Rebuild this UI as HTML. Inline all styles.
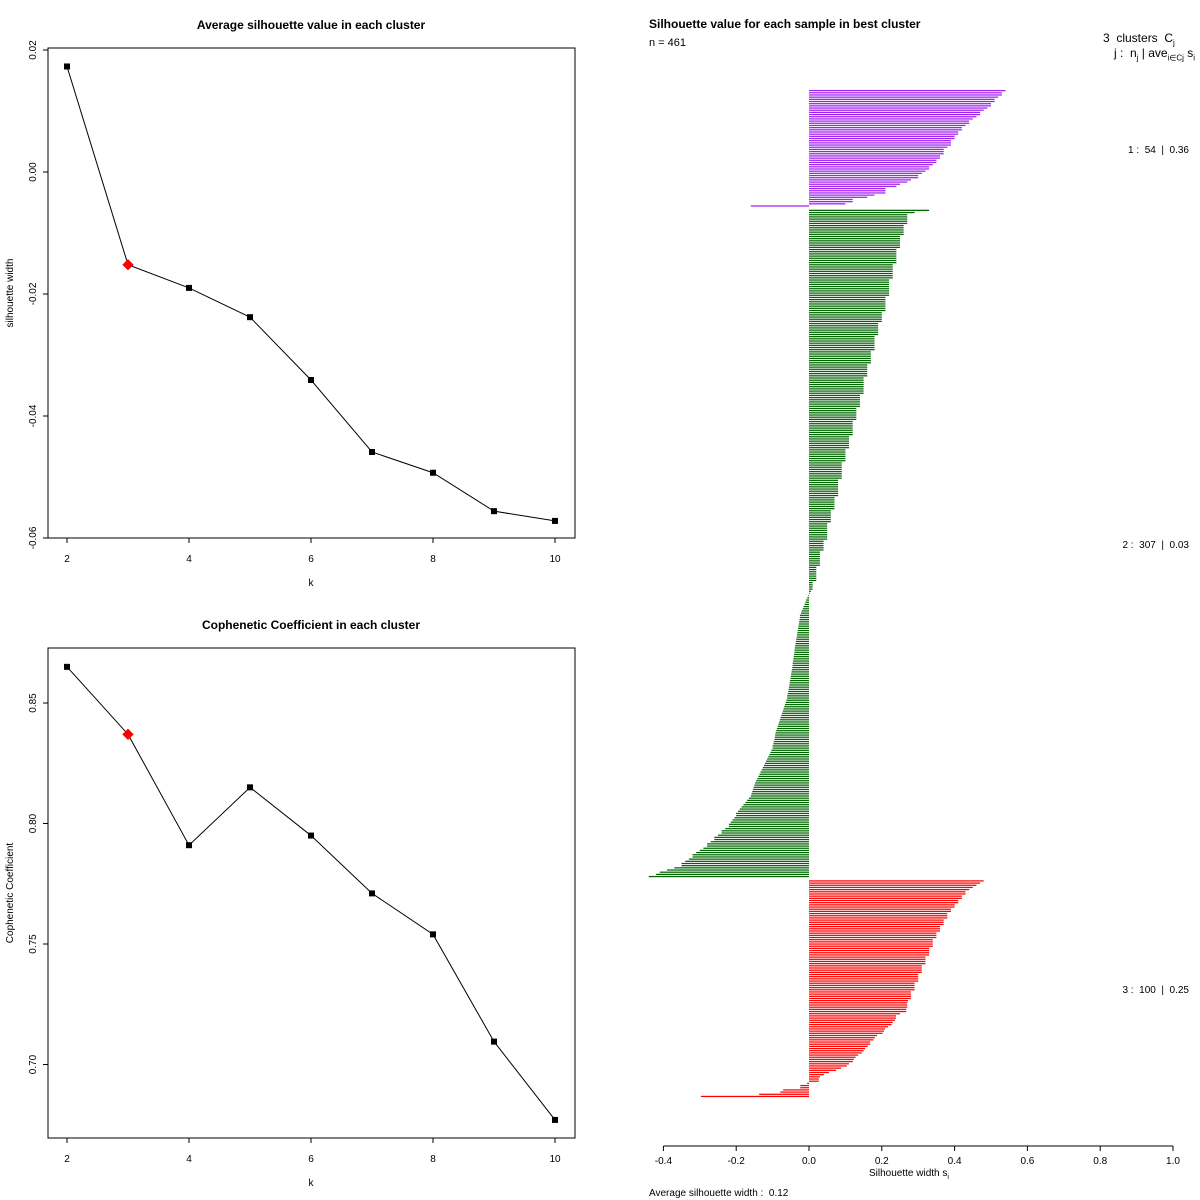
<!DOCTYPE html>
<html><head><meta charset="utf-8"><style>
body{margin:0;background:#fff}
svg{display:block;font-family:"Liberation Sans",Arial,sans-serif}
</style></head><body>
<svg id="s" width="1200" height="1200" viewBox="0 0 1200 1200">
<rect width="1200" height="1200" fill="#fff"/>
</svg>
<script>
const ks=[2,3,4,5,6,7,8,9,10];
const silAvg=[0.0173,-0.0152,-0.0190,-0.0238,-0.0341,-0.0459,-0.0493,-0.0556,-0.0572];
const coph=[0.865,0.837,0.791,0.815,0.795,0.771,0.754,0.7095,0.677];
const bestK=3;
const silTicks=[0.02,0,-0.02,-0.04,-0.06];
const silTickLabels=["0.02","0.00","-0.02","-0.04","-0.06"];
const cophTicks=[0.85,0.80,0.75,0.70];
const cophTickLabels=["0.85","0.80","0.75","0.70"];
const kTicks=[2,4,6,8,10];
const c1=[0.54,0.53,0.53,0.52,0.51,0.51,0.50,0.50,0.49,0.48,0.47,0.47,0.46,0.45,0.44,0.44,0.43,0.42,0.42,0.41,0.41,0.40,0.40,0.39,0.39,0.39,0.38,0.37,0.37,0.37,0.36,0.36,0.35,0.35,0.34,0.33,0.33,0.32,0.31,0.30,0.30,0.28,0.27,0.25,0.24,0.21,0.21,0.21,0.18,0.16,0.12,0.12,0.10,-0.16];
const c2=[0.33,0.29,
0.27,0.27,0.27,0.27,0.27,0.26,0.26,0.26,0.26,0.26,0.25,0.25,0.25,0.25,0.25,0.25,0.24,0.24,0.24,0.24,0.24,
0.24,0.24,0.23,0.23,0.23,0.23,0.23,0.23,0.23,0.22,0.22,0.22,0.22,0.22,0.22,0.22,0.22,0.21,
0.21,0.21,0.21,0.21,0.21,0.21,0.20,0.20,0.20,0.20,0.20,0.19,0.19,0.19,0.19,0.19,0.19,0.18,0.18,0.18,0.18,0.18,0.18,
0.18,0.17,0.17,0.17,0.17,0.17,0.17,0.16,0.16,0.16,0.16,0.16,0.16,0.15,0.15,0.15,0.15,0.15,0.15,0.15,0.15,0.14,0.14,
0.14,0.14,0.14,0.14,0.13,0.13,0.13,0.13,0.13,0.13,0.12,0.12,0.12,0.12,0.12,0.12,0.12,0.11,0.11,0.11,0.11,0.11,0.11,
0.10,0.10,0.10,0.10,0.10,0.10,0.09,0.09,0.09,0.09,0.09,0.09,0.09,0.09,0.08,0.08,0.08,0.08,0.08,0.08,0.08,0.08,0.07,
0.07,0.07,0.07,0.07,0.07,0.06,0.06,0.06,0.06,0.06,0.06,0.05,0.05,0.05,0.05,0.05,0.05,0.05,0.05,0.04,0.04,0.04,0.04,
0.04,0.03,0.03,0.03,0.03,0.03,0.03,0.03,0.02,0.02,0.02,0.02,0.02,0.02,0.02,0.01,0.01,0.01,0.01,0.005,0.002,
-0.002,-0.005,-0.008,-0.01,-0.012,-0.015,-0.017,-0.02,-0.022,-0.025,
-0.025,-0.026,-0.027,-0.028,-0.029,-0.03,-0.031,-0.032,-0.033,-0.034,-0.035,-0.036,-0.037,-0.038,-0.039,-0.04,-0.04,-0.041,-0.042,-0.043,-0.044,-0.045,-0.045,
-0.046,-0.047,-0.048,-0.049,-0.05,-0.051,-0.052,-0.053,-0.054,-0.055,-0.056,-0.057,-0.058,-0.06,
-0.06,-0.062,-0.064,-0.066,-0.068,-0.07,-0.072,-0.074,-0.076,-0.078,-0.08,-0.082,-0.084,-0.086,-0.088,-0.09,-0.092,-0.093,-0.094,-0.095,-0.097,-0.098,-0.1,
-0.1,-0.103,-0.106,-0.109,-0.112,-0.115,-0.118,-0.121,-0.124,-0.127,-0.13,-0.133,-0.136,-0.139,-0.142,-0.145,-0.148,-0.15,-0.152,-0.154,-0.156,-0.158,-0.16,
-0.165,-0.17,-0.175,-0.18,-0.185,-0.19,-0.195,-0.2,-0.2,-0.205,-0.21,-0.215,-0.22,-0.22,
-0.23,-0.24,-0.24,-0.25,-0.26,-0.26,-0.27,-0.28,-0.28,
-0.29,-0.3,-0.31,-0.32,-0.32,-0.33,-0.34,-0.35,-0.35,
-0.37,-0.39,-0.41,-0.42,-0.44];
const c3=[0.48,0.47,0.46,0.45,0.44,0.43,0.43,0.42,0.42,0.41,0.41,0.40,0.40,0.39,0.39,0.38,0.38,0.38,0.37,0.37,0.37,0.36,0.36,0.36,0.35,0.35,0.35,0.34,0.34,0.34,0.34,0.33,0.33,0.33,0.33,0.32,0.32,0.32,0.32,0.31,0.31,0.31,0.31,0.30,0.30,0.30,0.30,0.29,0.29,0.29,0.29,0.28,0.28,0.28,0.28,
0.272,0.27,0.27,0.27,0.267,0.267,0.25,0.239,0.239,0.236,0.23,0.227,0.217,0.209,0.206,0.202,0.187,0.181,0.177,0.168,0.168,0.161,0.154,0.15,0.145,0.135,0.128,0.123,0.12,0.11,0.104,0.088,0.074,0.055,0.041,0.03,0.027,0.027,-0.005,-0.024,-0.024,-0.071,-0.079,-0.137,-0.297];
const clusterColors=["#A020F0","#006400","#FF0000"];
const clusterLabels=["1 :  54  |  0.36","2 :  307  |  0.03","3 :  100  |  0.25"];
const silTickVals=[-0.4,-0.2,0,0.2,0.4,0.6,0.8,1.0];
const silTickText=["-0.4","-0.2","0.0","0.2","0.4","0.6","0.8","1.0"];

const svg=document.getElementById('s');
const NS='http://www.w3.org/2000/svg';
function mk(tag,attrs,parent){const e=document.createElementNS(NS,tag);for(const k in attrs)e.setAttribute(k,attrs[k]);(parent||svg).appendChild(e);return e;}
function txt(x,y,s,size,anchor,extra,parent){const e=mk('text',Object.assign({x:x,y:y,'font-size':size,'text-anchor':anchor||'middle',fill:'#000'},extra||{}),parent);e.textContent=s;return e;}

function linePanel(name,top,vals,ymap,ticks,tickLabels,title,ytitle){
  const g=mk('g',{});
  
  
  const L=48,R=575,T=top,B=top+490;
  const xm=k=>67+(k-2)*61;
  const frame=mk('rect',{x:L,y:T,width:R-L,height:B-T,fill:'none',stroke:'#000','stroke-width':1},g);
  
  
  const t=txt(311,T-19,title,12,'middle',{'font-weight':'bold'},g);
  
  
  ticks.forEach((v,i)=>{const y=ymap(v);mk('line',{x1:L-5,x2:L,y1:y,y2:y,stroke:'#000'},g);
    const lb=txt(0,0,tickLabels[i],10,'middle',{transform:`translate(${L-12},${y}) rotate(-90)`},g);
    
    });
  mk('line',{x1:L,x2:L,y1:ymap(ticks[0]),y2:ymap(ticks[ticks.length-1]),stroke:'#000'},g);
  kTicks.forEach(k=>{const x=xm(k);mk('line',{x1:x,x2:x,y1:B,y2:B+5,stroke:'#000'},g);
    const lb=txt(x,B+24,String(k),10,'middle',{},g);
    
    });
  mk('line',{x1:xm(2),x2:xm(10),y1:B,y2:B,stroke:'#000'},g);
  const xt=txt(311,B+48,'k',10,'middle',{},g);
  
  
  const yt=txt(0,0,ytitle,10,'middle',{transform:`translate(13,${(T+B)/2}) rotate(-90)`},g);
  
  
  const pts=ks.map((k,i)=>xm(k)+','+ymap(vals[i])).join(' ');
  const pl=mk('polyline',{points:pts,fill:'none',stroke:'#000','stroke-width':1},g);
  
  
  ks.forEach((k,i)=>{const x=xm(k),y=ymap(vals[i]);
    let m;
    if(k===bestK){m=mk('rect',{x:x-4,y:y-4,width:8,height:8,fill:'#f00',transform:`rotate(45 ${x} ${y})`},g);}
    else{m=mk('rect',{x:x-3,y:y-3,width:6,height:6,fill:'#000'},g);}
    
    });
}
linePanel('silhouette-panel',48,silAvg,v=>172-v*6100,silTicks,silTickLabels,'Average silhouette value in each cluster','silhouette width');
linePanel('cophenetic-panel',648,coph,v=>703+(0.85-v)*2410,cophTicks,cophTickLabels,'Cophenetic Coefficient in each cluster','Cophenetic Coefficient');

const sg=mk('g',{});


const sx=v=>809+v*364;
const clusters=[c1,c2,c3];
const nUnits=c1.length+c2.length+c3.length+2;
const unit=(1098-90)/nUnits;
let idx=0;
clusters.forEach((arr,ci)=>{
  const startIdx=idx;
  arr.forEach(v=>{
    const y=90+idx*unit;
    const x0=Math.min(sx(0),sx(v)),w=Math.abs(sx(v)-sx(0));
    const b=mk('rect',{x:x0,y:y,width:w,height:1.25,fill:clusterColors[ci]},sg);
    
    
    idx++;
  });
  const mid=90+(startIdx+arr.length/2)*unit;
  const lb=txt(1189,mid+4,clusterLabels[ci],10,'end',{style:'white-space:pre'},sg);
  
  
  idx++;
});
const ax=mk('line',{x1:sx(-0.4),x2:sx(1.0),y1:1146,y2:1146,stroke:'#000'},sg);


silTickVals.forEach((v,i)=>{mk('line',{x1:sx(v),x2:sx(v),y1:1146,y2:1151,stroke:'#000'},sg);
  const lb=txt(sx(v),1164,silTickText[i],10,'middle',{},sg);
  
  });
</script>
<div style="position:absolute;left:0;top:0;width:1200px;height:1200px;pointer-events:none;font-family:'Liberation Sans',Arial,sans-serif;color:#000">
<div style="position:absolute;left:649px;top:17px;font-size:12px;font-weight:bold">Silhouette value for each sample in best cluster</div>
<div style="position:absolute;left:649px;top:37px;font-size:11px">n = 461</div>
<div style="position:absolute;left:1103px;top:31px;font-size:12px">3&nbsp; clusters&nbsp; C<sub style="font-size:8px">j</sub></div>
<div style="position:absolute;left:1114px;top:46px;font-size:12px">j :&nbsp; n<sub style="font-size:8px">j</sub> | ave<sub style="font-size:8px">i∈Cj</sub>&nbsp;s<sub style="font-size:8px">i</sub></div>
<div style="position:absolute;left:869px;top:1168px;font-size:10px">Silhouette width s<sub style="font-size:7px">i</sub></div>
<div style="position:absolute;left:649px;top:1188px;font-size:10px">Average silhouette width :&nbsp; 0.12</div>
</div>
</body></html>
